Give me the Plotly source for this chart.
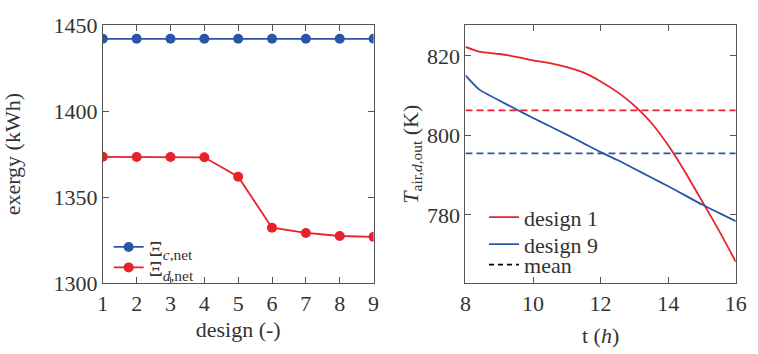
import plotly.graph_objects as go

# ---- data: left panel ----
designs = [1, 2, 3, 4, 5, 6, 7, 8, 9]
xi_c_net = [1442, 1442, 1442, 1442, 1442, 1442, 1442, 1442, 1442]
xi_d_net = [1373.5, 1373.4, 1373.4, 1373.2, 1361.9, 1332.3, 1329.3, 1327.5, 1327.0]

# ---- data: right panel ----
t_hours = [8, 8.4, 9, 9.5, 10, 10.5, 11, 11.5, 12, 12.5, 13, 13.5, 14, 14.5, 15, 15.5, 16]
T_design1 = [822.3, 821.1, 820.5, 819.8, 818.9, 818.2, 817.2, 815.8, 813.6, 810.9, 807.5, 803.2,
             797.5, 790.8, 783.5, 776.1, 768.2]
T_design9 = [815.1, 811.6, 808.8, 806.6, 804.4, 802.3, 800.2, 798.0, 795.8, 793.8, 791.6, 789.4,
             787.2, 784.9, 782.6, 780.5, 778.4]
t_span = [8, 16]
mean_design1 = 806.3
mean_design9 = 795.5

RED = "#e8212b"
BLUE = "#2b55a9"
FONT = "Liberation Serif, DejaVu Serif, serif"
AX = "#555555"
TXT = "#333333"
FS = 22

fig = go.Figure()

fig.add_trace(go.Scatter(x=designs, y=xi_c_net, mode="lines+markers",
                         line=dict(color=BLUE, width=1.8), marker=dict(size=10, color=BLUE),
                         name="Ξ<sub><i>c</i>,net</sub>", xaxis="x", yaxis="y", legend="legend"))
fig.add_trace(go.Scatter(x=designs, y=xi_d_net, mode="lines+markers",
                         line=dict(color=RED, width=1.8), marker=dict(size=10, color=RED),
                         name="Ξ<sub><i>d</i>,net</sub>", xaxis="x", yaxis="y", legend="legend2"))

fig.add_trace(go.Scatter(x=t_hours, y=T_design1, mode="lines",
                         line=dict(color=RED, width=1.8, shape="spline", smoothing=0.5),
                         name="design 1", xaxis="x2", yaxis="y2", legend="legend3"))
fig.add_trace(go.Scatter(x=t_hours, y=T_design9, mode="lines",
                         line=dict(color=BLUE, width=1.8, shape="spline", smoothing=0.5),
                         name="design 9", xaxis="x2", yaxis="y2", legend="legend4"))
fig.add_trace(go.Scatter(x=t_span, y=[mean_design1, mean_design1], mode="lines",
                         line=dict(color=RED, width=1.8, dash="7px,4px"), showlegend=False,
                         xaxis="x2", yaxis="y2"))
fig.add_trace(go.Scatter(x=t_span, y=[mean_design9, mean_design9], mode="lines",
                         line=dict(color=BLUE, width=1.8, dash="7px,4px"), showlegend=False,
                         xaxis="x2", yaxis="y2"))
fig.add_trace(go.Scatter(x=[None], y=[None], mode="lines",
                         line=dict(color="black", width=1.8, dash="5px,4px"),
                         name="mean", xaxis="x2", yaxis="y2", legend="legend5"))

axis_common = dict(showline=True, linecolor=AX, linewidth=1, mirror="ticks", ticks="inside",
                   ticklen=6, tickcolor=AX, tickwidth=1, showgrid=False, zeroline=False,
                   tickfont=dict(family=FONT, size=FS, color=TXT))

y0, y1 = 1 - 292 / 354, 1 - 14 / 354


def leg(xpx, ypx):
    # legend box placed by the vertical centre of its single entry
    return dict(x=xpx / 758, y=1 - ypx / 354, xanchor="left", yanchor="middle",
                bgcolor="rgba(0,0,0,0)", font=dict(family=FONT, size=FS, color=TXT),
                tracegroupgap=0, itemwidth=30)


def ttl(text, standoff):
    return dict(text=text, standoff=standoff, font=dict(family=FONT, size=FS, color=TXT))


fig.update_layout(
    width=758, height=354, margin=dict(l=0, r=0, t=0, b=0),
    paper_bgcolor="white", plot_bgcolor="white",
    font=dict(family=FONT, size=FS, color=TXT),
    xaxis=dict(domain=[99 / 758, 376 / 758], anchor="y", range=[1, 9], tickvals=designs,
               title=ttl("design (-)", 6), **axis_common),
    yaxis=dict(domain=[y0, y1], anchor="x", range=[1300, 1450], tickvals=[1300, 1350, 1400, 1450],
               title=ttl("exergy (kWh)", 26), **axis_common),
    xaxis2=dict(domain=[470 / 758, 746.5 / 758], anchor="y2", range=[8, 16], tickvals=[8, 10, 12, 14, 16],
                title=ttl("t (<i>h</i>)", 12), **axis_common),
    yaxis2=dict(domain=[y0, y1], anchor="x2", range=[762.75, 827.8], tickvals=[780, 800, 820],
                title=ttl("<i>T</i><sub>air,<i>d</i>,out</sub> (K)", 2), **axis_common),
    legend=leg(105, 253),
    legend2=leg(105, 275),
    legend3=leg(489, 221),
    legend4=leg(489, 250),
    legend5=leg(489, 272),
)

fig.write_html("out.html")
